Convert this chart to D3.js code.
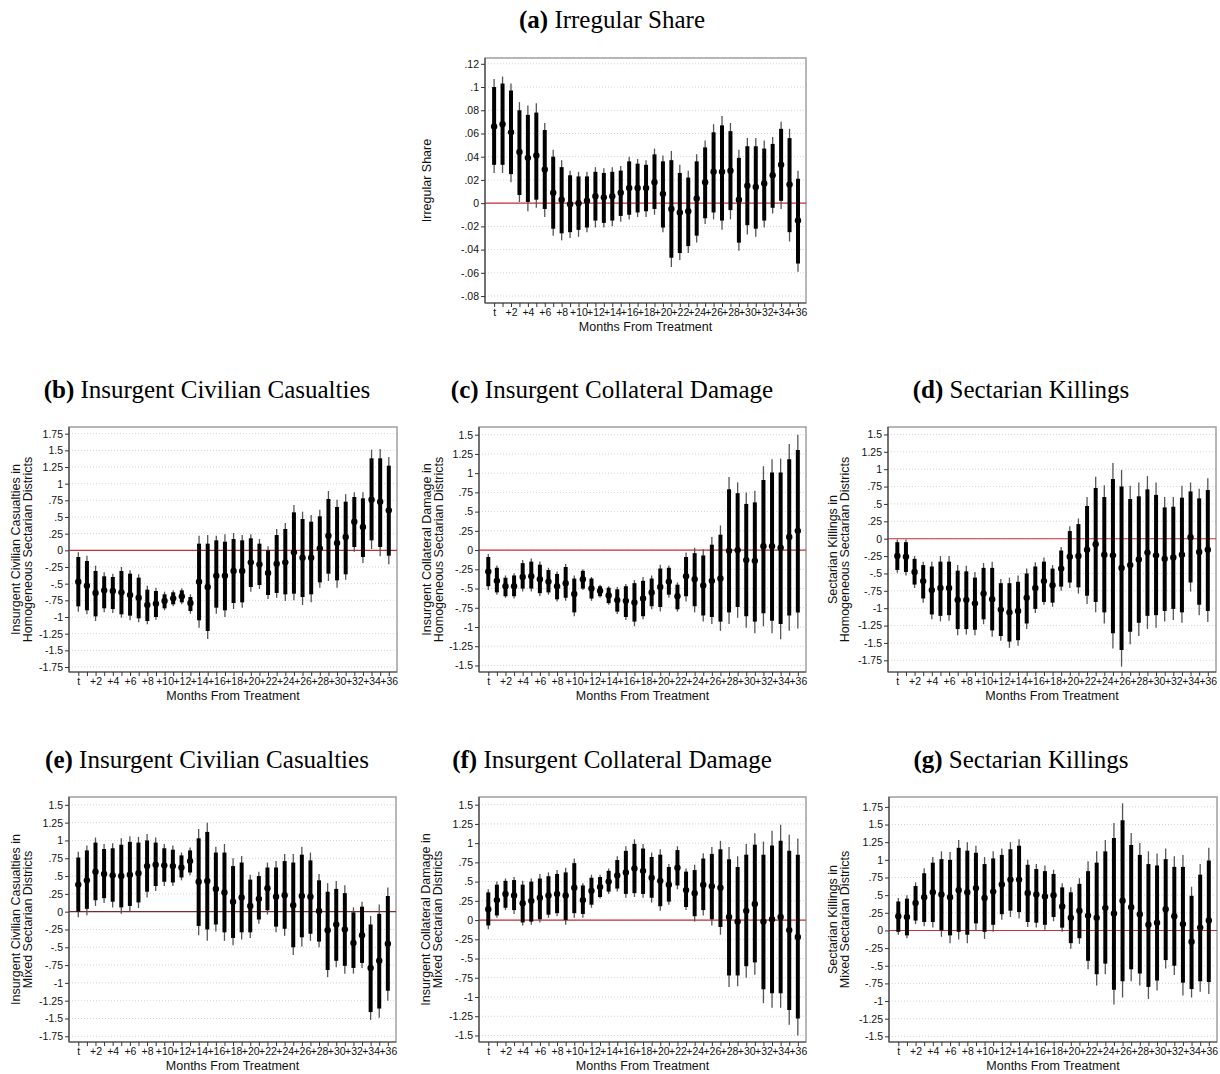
<!DOCTYPE html>
<html>
<head>
<meta charset="utf-8">
<script src="https://cdn.jsdelivr.net/npm/d3@7"></script>
<style>
  body { margin: 0; background: #fff; }
  svg { display: block; }
  .tick text { font-family: "Liberation Sans", Arial, sans-serif; font-size: 10.5px; fill: #111; }
  .ttl { font-family: "Liberation Serif", "Times New Roman", serif; font-size: 25px; fill: #000; }
  .axt { font-family: "Liberation Sans", Arial, sans-serif; font-size: 12.5px; fill: #111; }
</style>
</head>
<body>
<script>
// months from treatment
const months = ["t","+1","+2","+3","+4","+5","+6","+7","+8","+9","+10","+11","+12","+13","+14","+15","+16","+17","+18",
  "+19","+20","+21","+22","+23","+24","+25","+26","+27","+28","+29","+30","+31","+32","+33","+34","+35","+36"];

// y tick labels (Stata style)
const aTicks = [".12", ".1", ".08", ".06", ".04", ".02", "0", "-.02", "-.04", "-.06", "-.08"];
const bTicks = ["1.75","1.5","1.25","1",".75",".5",".25","0","-.25","-.5","-.75","-1","-1.25","-1.5","-1.75"];
const cTicks = ["1.5","1.25","1",".75",".5",".25","0","-.25","-.5","-.75","-1","-1.25","-1.5"];
const dTicks = ["1.5","1.25","1",".75",".5",".25","0","-.25","-.5","-.75","-1","-1.25","-1.5","-1.75"];
const eTicks = ["1.5","1.25","1",".75",".5",".25","0","-.25","-.5","-.75","-1","-1.25","-1.5","-1.75"];
const fTicks = ["1.5","1.25","1",".75",".5",".25","0","-.25","-.5","-.75","-1","-1.25","-1.5"];
const gTicks = ["1.75","1.5","1.25","1",".75",".5",".25","0","-.25","-.5","-.75","-1","-1.25","-1.5"];

// (a) Irregular Share
const aEst  = [0.066,0.068,0.061,0.044,0.039,0.041,0.029,0.009,0.003,-0.001,0.000,0.002,0.006,0.005,0.006,0.009,0.013,0.013,0.013,0.018,0.008,-0.005,-0.008,-0.007,0.004,0.018,0.027,0.027,0.028,0.003,0.015,0.014,0.017,0.024,0.033,0.016,-0.015];
const aHi95 = [0.107,0.109,0.103,0.087,0.084,0.086,0.069,0.046,0.037,0.028,0.027,0.027,0.031,0.030,0.031,0.032,0.040,0.038,0.037,0.047,0.041,0.045,0.033,0.028,0.042,0.054,0.068,0.075,0.069,0.046,0.056,0.056,0.054,0.057,0.070,0.064,0.028];
const aLo95 = [0.026,0.026,0.018,0.001,-0.007,-0.004,-0.012,-0.028,-0.032,-0.030,-0.029,-0.025,-0.021,-0.021,-0.020,-0.016,-0.014,-0.012,-0.012,-0.010,-0.025,-0.055,-0.049,-0.043,-0.034,-0.018,-0.014,-0.023,-0.014,-0.041,-0.027,-0.029,-0.021,-0.009,-0.005,-0.033,-0.059];
const aHi90 = [0.100,0.103,0.097,0.080,0.076,0.078,0.063,0.040,0.031,0.024,0.023,0.023,0.027,0.026,0.027,0.028,0.036,0.034,0.033,0.042,0.036,0.037,0.026,0.022,0.036,0.048,0.061,0.067,0.062,0.039,0.049,0.049,0.047,0.051,0.064,0.056,0.021];
const aLo90 = [0.033,0.033,0.025,0.007,0.001,0.003,-0.005,-0.022,-0.026,-0.025,-0.023,-0.021,-0.015,-0.017,-0.015,-0.011,-0.010,-0.008,-0.007,-0.005,-0.021,-0.047,-0.043,-0.037,-0.028,-0.013,-0.008,-0.015,-0.006,-0.034,-0.019,-0.022,-0.015,-0.004,0.002,-0.025,-0.052];

// (b) Insurgent Civilian Casualties, homogeneous
const bEst  = [-0.47,-0.53,-0.64,-0.60,-0.61,-0.63,-0.67,-0.71,-0.82,-0.80,-0.76,-0.72,-0.69,-0.79,-0.47,-0.55,-0.38,-0.38,-0.31,-0.31,-0.18,-0.21,-0.34,-0.20,-0.18,-0.03,-0.11,-0.11,0.03,0.22,0.11,0.20,0.43,0.35,0.76,0.73,0.60];
const bHi95 = [-0.03,-0.08,-0.23,-0.33,-0.35,-0.25,-0.30,-0.36,-0.53,-0.56,-0.62,-0.60,-0.57,-0.66,0.22,0.23,0.22,0.24,0.26,0.23,0.24,0.17,0.06,0.32,0.41,0.68,0.58,0.53,0.61,0.89,0.76,0.84,0.87,0.87,1.51,1.52,1.40];
const bLo95 = [-0.92,-0.96,-1.06,-0.93,-0.94,-1.01,-1.05,-1.08,-1.11,-1.04,-0.90,-0.84,-0.81,-0.95,-1.16,-1.33,-0.95,-1.00,-0.88,-0.86,-0.62,-0.58,-0.73,-0.71,-0.76,-0.75,-0.82,-0.78,-0.56,-0.46,-0.56,-0.44,-0.02,-0.19,0.02,-0.09,-0.21];
const bHi90 = [-0.10,-0.16,-0.31,-0.39,-0.40,-0.31,-0.35,-0.41,-0.59,-0.61,-0.66,-0.63,-0.60,-0.70,0.10,0.10,0.15,0.13,0.17,0.15,0.18,0.10,0.00,0.23,0.32,0.57,0.47,0.43,0.51,0.77,0.65,0.73,0.80,0.78,1.38,1.38,1.27];
const bLo90 = [-0.84,-0.90,-0.99,-0.87,-0.88,-0.96,-0.98,-1.02,-1.06,-1.00,-0.87,-0.81,-0.78,-0.91,-1.05,-1.21,-0.86,-0.90,-0.79,-0.78,-0.55,-0.52,-0.67,-0.64,-0.66,-0.65,-0.70,-0.66,-0.48,-0.35,-0.45,-0.36,0.05,-0.10,0.15,0.05,-0.08];

// (c) Insurgent Collateral Damage, homogeneous
const cEst  = [-0.28,-0.40,-0.47,-0.47,-0.35,-0.34,-0.38,-0.41,-0.47,-0.43,-0.57,-0.38,-0.50,-0.53,-0.59,-0.65,-0.66,-0.68,-0.63,-0.55,-0.48,-0.41,-0.60,-0.34,-0.38,-0.46,-0.40,-0.37,-0.01,0.00,-0.13,-0.14,0.05,0.05,0.03,0.17,0.25];
const cHi95 = [-0.05,-0.20,-0.33,-0.30,-0.13,-0.11,-0.15,-0.23,-0.28,-0.18,-0.33,-0.25,-0.35,-0.45,-0.47,-0.48,-0.44,-0.39,-0.35,-0.33,-0.19,-0.20,-0.42,-0.03,0.03,0.01,0.17,0.32,0.95,0.88,0.75,0.77,1.09,1.18,1.19,1.38,1.50];
const cLo95 = [-0.52,-0.58,-0.62,-0.63,-0.54,-0.54,-0.60,-0.58,-0.67,-0.66,-0.86,-0.52,-0.66,-0.62,-0.71,-0.83,-0.91,-0.99,-0.90,-0.77,-0.80,-0.62,-0.80,-0.67,-0.81,-0.93,-0.96,-1.05,-0.96,-0.88,-1.01,-1.08,-0.99,-1.08,-1.16,-1.05,-1.02];
const cHi90 = [-0.09,-0.23,-0.36,-0.33,-0.17,-0.15,-0.19,-0.26,-0.31,-0.22,-0.37,-0.27,-0.37,-0.47,-0.49,-0.51,-0.47,-0.43,-0.40,-0.37,-0.24,-0.23,-0.45,-0.09,-0.04,-0.07,0.07,0.20,0.79,0.74,0.60,0.62,0.91,1.01,1.01,1.18,1.30];
const cLo90 = [-0.47,-0.55,-0.60,-0.60,-0.50,-0.50,-0.56,-0.55,-0.64,-0.62,-0.81,-0.50,-0.63,-0.60,-0.69,-0.80,-0.87,-0.93,-0.86,-0.73,-0.74,-0.58,-0.77,-0.60,-0.73,-0.85,-0.87,-0.93,-0.81,-0.74,-0.86,-0.93,-0.82,-0.92,-0.96,-0.85,-0.81];

// (d) Sectarian Killings, homogeneous
const dEst  = [-0.25,-0.26,-0.48,-0.61,-0.74,-0.71,-0.71,-0.88,-0.88,-0.93,-0.79,-0.87,-1.02,-1.06,-1.04,-0.85,-0.71,-0.61,-0.67,-0.43,-0.26,-0.25,-0.16,-0.08,-0.23,-0.24,-0.42,-0.38,-0.30,-0.20,-0.24,-0.29,-0.27,-0.23,0.02,-0.19,-0.16];
const dHi95 = [-0.01,-0.01,-0.25,-0.33,-0.33,-0.25,-0.25,-0.38,-0.39,-0.48,-0.35,-0.33,-0.58,-0.56,-0.53,-0.43,-0.34,-0.27,-0.38,-0.12,0.18,0.29,0.60,0.89,0.77,1.09,0.99,0.76,0.81,0.90,0.81,0.60,0.60,0.76,0.81,0.72,0.87];
const dLo95 = [-0.49,-0.53,-0.71,-0.92,-1.16,-1.19,-1.18,-1.39,-1.38,-1.39,-1.23,-1.41,-1.47,-1.57,-1.54,-1.30,-1.07,-0.95,-0.98,-0.75,-0.71,-0.79,-0.94,-1.06,-1.22,-1.58,-1.84,-1.52,-1.40,-1.30,-1.28,-1.19,-1.17,-1.21,-0.76,-1.10,-1.20];
const dHi90 = [-0.05,-0.05,-0.29,-0.38,-0.40,-0.33,-0.33,-0.46,-0.47,-0.56,-0.42,-0.42,-0.64,-0.64,-0.62,-0.50,-0.40,-0.33,-0.43,-0.17,0.11,0.21,0.47,0.73,0.60,0.86,0.75,0.57,0.61,0.71,0.63,0.45,0.46,0.59,0.68,0.58,0.70];
const dLo90 = [-0.45,-0.48,-0.66,-0.86,-1.09,-1.11,-1.10,-1.30,-1.30,-1.31,-1.16,-1.32,-1.40,-1.48,-1.46,-1.22,-1.01,-0.91,-0.92,-0.69,-0.63,-0.70,-0.82,-0.91,-1.06,-1.36,-1.60,-1.34,-1.21,-1.11,-1.10,-1.04,-1.01,-1.06,-0.63,-0.95,-1.04];

// (e) Insurgent Civilian Casualties, mixed
const eEst  = [0.38,0.44,0.56,0.53,0.51,0.50,0.52,0.54,0.64,0.66,0.65,0.64,0.62,0.71,0.42,0.43,0.32,0.27,0.14,0.20,0.08,0.18,0.33,0.21,0.23,0.09,0.22,0.21,0.01,-0.26,-0.18,-0.25,-0.44,-0.33,-0.79,-0.69,-0.45];
const eHi95 = [0.84,0.93,1.04,0.95,0.96,1.03,1.06,1.05,1.09,1.04,0.95,0.93,0.83,0.90,1.16,1.25,0.91,0.95,0.75,0.78,0.52,0.56,0.69,0.71,0.81,0.81,0.91,0.83,0.53,0.40,0.43,0.37,0.06,0.14,-0.06,0.10,0.34];
const eLo95 = [-0.08,-0.05,0.08,0.12,0.06,-0.03,0.01,0.05,0.20,0.29,0.36,0.36,0.44,0.51,-0.33,-0.41,-0.28,-0.41,-0.47,-0.39,-0.37,-0.17,-0.04,-0.29,-0.34,-0.61,-0.49,-0.41,-0.50,-0.92,-0.78,-0.87,-0.87,-0.79,-1.52,-1.49,-1.25];
const eHi90 = [0.76,0.86,0.97,0.88,0.89,0.94,0.98,0.97,1.00,0.97,0.89,0.87,0.79,0.86,1.03,1.12,0.83,0.83,0.64,0.69,0.45,0.50,0.62,0.62,0.71,0.69,0.80,0.72,0.44,0.28,0.32,0.26,-0.01,0.07,-0.18,-0.03,0.22];
const eLo90 = [0.00,0.04,0.16,0.19,0.14,0.06,0.08,0.13,0.28,0.36,0.42,0.41,0.48,0.55,-0.20,-0.25,-0.18,-0.29,-0.37,-0.29,-0.29,-0.11,0.02,-0.21,-0.24,-0.50,-0.36,-0.31,-0.42,-0.82,-0.69,-0.76,-0.79,-0.72,-1.41,-1.36,-1.11];

// (f) Insurgent Collateral Damage, mixed
const fEst  = [0.14,0.26,0.34,0.32,0.22,0.25,0.29,0.32,0.34,0.32,0.42,0.26,0.38,0.43,0.50,0.58,0.62,0.67,0.64,0.55,0.51,0.46,0.68,0.39,0.35,0.46,0.44,0.42,0.04,-0.02,0.12,0.21,-0.02,0.01,0.04,-0.13,-0.22];
const fHi95 = [0.40,0.50,0.54,0.56,0.51,0.54,0.60,0.62,0.65,0.68,0.80,0.48,0.59,0.59,0.67,0.83,0.96,1.05,0.99,0.88,0.92,0.73,0.96,0.67,0.72,0.87,0.95,1.03,0.95,0.83,0.99,1.13,1.02,1.16,1.24,1.11,1.06];
const fLo95 = [-0.12,0.03,0.13,0.08,-0.07,-0.06,-0.03,0.03,0.05,-0.06,0.03,0.03,0.16,0.28,0.34,0.37,0.29,0.30,0.29,0.23,0.12,0.20,0.40,0.13,-0.02,0.06,-0.07,-0.19,-0.87,-0.86,-0.75,-0.71,-1.08,-1.14,-1.14,-1.36,-1.50];
const fHi90 = [0.36,0.46,0.51,0.52,0.46,0.50,0.54,0.57,0.60,0.62,0.74,0.45,0.55,0.56,0.64,0.78,0.90,0.99,0.93,0.82,0.85,0.69,0.91,0.63,0.65,0.80,0.86,0.92,0.79,0.69,0.85,0.98,0.85,0.97,1.03,0.90,0.85];
const fLo90 = [-0.07,0.06,0.16,0.13,-0.03,-0.02,0.01,0.07,0.09,0.00,0.09,0.08,0.20,0.30,0.37,0.41,0.34,0.35,0.34,0.29,0.18,0.24,0.45,0.17,0.05,0.13,0.01,-0.09,-0.72,-0.72,-0.60,-0.55,-0.90,-0.95,-0.95,-1.17,-1.28];

// (g) Sectarian Killings, mixed
const gEst  = [0.20,0.19,0.39,0.47,0.54,0.51,0.47,0.57,0.54,0.60,0.46,0.55,0.65,0.72,0.72,0.53,0.51,0.48,0.50,0.34,0.18,0.28,0.21,0.18,0.32,0.24,0.42,0.33,0.23,0.08,0.11,0.30,0.20,0.09,-0.16,0.04,0.14];
const gHi95 = [0.46,0.50,0.68,0.88,1.04,1.12,1.11,1.28,1.25,1.20,1.04,1.12,1.16,1.25,1.29,1.00,0.94,0.92,0.86,0.67,0.61,0.74,0.98,1.12,1.28,1.52,1.80,1.38,1.24,1.12,1.09,1.16,1.05,1.07,0.62,0.94,1.17];
const gLo95 = [-0.06,-0.11,0.09,0.06,0.04,-0.09,-0.18,-0.13,-0.18,0.00,-0.12,-0.02,0.15,0.19,0.17,0.05,0.04,0.01,0.13,-0.02,-0.26,-0.19,-0.55,-0.78,-0.62,-1.05,-0.95,-0.72,-0.78,-0.97,-0.85,-0.54,-0.63,-0.92,-0.95,-0.87,-0.90];
const gHi90 = [0.41,0.45,0.63,0.81,0.96,1.01,1.00,1.17,1.13,1.10,0.94,1.02,1.07,1.15,1.20,0.93,0.87,0.84,0.80,0.61,0.54,0.66,0.84,0.96,1.12,1.31,1.56,1.21,1.07,0.94,0.92,1.01,0.90,0.90,0.49,0.79,0.99];
const gLo90 = [-0.02,-0.07,0.14,0.12,0.12,0.00,-0.07,-0.02,-0.06,0.10,-0.02,0.08,0.23,0.28,0.26,0.12,0.11,0.08,0.19,0.04,-0.18,-0.11,-0.43,-0.62,-0.47,-0.84,-0.72,-0.55,-0.61,-0.80,-0.71,-0.42,-0.50,-0.74,-0.83,-0.72,-0.73];

const panels = [
  { tag: "(a)", title: "Irregular Share", ylab: ["Irregular Share"], ticks: aTicks,
    est: aEst, lo95: aLo95, hi95: aHi95, lo90: aLo90, hi90: aHi90 },
  { tag: "(b)", title: "Insurgent Civilian Casualties", ylab: ["Insurgent Civilian Casualties in", "Homogeneous Sectarian Districts"], ticks: bTicks,
    est: bEst, lo95: bLo95, hi95: bHi95, lo90: bLo90, hi90: bHi90 },
  { tag: "(c)", title: "Insurgent Collateral Damage", ylab: ["Insurgent Collateral Damage in", "Homogeneous Sectarian Districts"], ticks: cTicks,
    est: cEst, lo95: cLo95, hi95: cHi95, lo90: cLo90, hi90: cHi90 },
  { tag: "(d)", title: "Sectarian Killings", ylab: ["Sectarian Killings in", "Homogeneous Sectarian Districts"], ticks: dTicks,
    est: dEst, lo95: dLo95, hi95: dHi95, lo90: dLo90, hi90: dHi90 },
  { tag: "(e)", title: "Insurgent Civilian Casualties", ylab: ["Insurgent Civilian Casualties in", "Mixed Sectarian Districts"], ticks: eTicks,
    est: eEst, lo95: eLo95, hi95: eHi95, lo90: eLo90, hi90: eHi90 },
  { tag: "(f)", title: "Insurgent Collateral Damage", ylab: ["Insurgent Collateral Damage in", "Mixed Sectarian Districts"], ticks: fTicks,
    est: fEst, lo95: fLo95, hi95: fHi95, lo90: fLo90, hi90: fHi90 },
  { tag: "(g)", title: "Sectarian Killings", ylab: ["Sectarian Killings in", "Mixed Sectarian Districts"], ticks: gTicks,
    est: gEst, lo95: gLo95, hi95: gHi95, lo90: gLo90, hi90: gHi90 }
];

// plot frames (pixels) and y domains
const layout = [
  { l: 485, t: 58,  r: 806,  b: 303,  tx: 612,  ty: 28,  yx: 431, yd: [-0.086, 0.125], zero: "#c4303a" },
  { l: 69,  t: 427, r: 397,  b: 672,  tx: 207,  ty: 398, yx: 20,  yd: [-1.825, 1.85],  zero: "#c4303a" },
  { l: 479, t: 427, r: 806,  b: 672,  tx: 612,  ty: 398, yx: 431, yd: [-1.585, 1.60],  zero: "#c4303a" },
  { l: 888, t: 427, r: 1216, b: 672,  tx: 1021, ty: 398, yx: 837, yd: [-1.918, 1.607], zero: "#c4303a" },
  { l: 69,  t: 797, r: 396,  b: 1042, tx: 207,  ty: 768, yx: 20,  yd: [-1.83, 1.61],   zero: "#7a2a30" },
  { l: 479, t: 797, r: 806,  b: 1042, tx: 612,  ty: 768, yx: 430, yd: [-1.585, 1.60],  zero: "#c4303a" },
  { l: 889, t: 797, r: 1217, b: 1042, tx: 1021, ty: 768, yx: 837, yd: [-1.58, 1.89],   zero: "#c4303a" }
];

const svg = d3.select("body").append("svg")
  .attr("width", 1220).attr("height", 1074);
svg.append("rect").attr("width", 1220).attr("height", 1074).attr("fill", "#fff");

panels.forEach((p, k) => {
  const L = layout[k];
  const g = svg.append("g");

  // title
  const t = g.append("text").attr("class", "ttl")
    .attr("x", L.tx).attr("y", L.ty).attr("text-anchor", "middle");
  t.append("tspan").attr("font-weight", "bold").text(p.tag);
  t.append("tspan").text(" " + p.title);

  const x = d3.scaleLinear().domain([-1.08, 36.95]).range([L.l, L.r]);
  const y = d3.scaleLinear().domain(L.yd).range([L.b, L.t]);
  const tv = p.ticks.map(s => +s);

  // grid
  g.append("g").selectAll("line").data(tv).join("line")
    .attr("x1", L.l).attr("x2", L.r)
    .attr("y1", d => y(d)).attr("y2", d => y(d))
    .attr("stroke", "#c8c8c8").attr("stroke-width", 0.8)
    .attr("stroke-dasharray", "1,2");

  // frame
  g.append("rect").attr("x", L.l).attr("y", L.t)
    .attr("width", L.r - L.l).attr("height", L.b - L.t)
    .attr("fill", "none").attr("stroke", "#a0a0a0").attr("stroke-width", 1.5);

  // zero line
  g.append("line").attr("x1", L.l).attr("x2", L.r)
    .attr("y1", y(0)).attr("y2", y(0))
    .attr("stroke", L.zero).attr("stroke-width", 1.1);

  // axes
  const ya = g.append("g").attr("transform", `translate(${L.l},0)`)
    .call(d3.axisLeft(y).tickValues(tv).tickFormat((d, i) => p.ticks[i]).tickSize(4).tickSizeOuter(0));
  const xa = g.append("g").attr("transform", `translate(0,${L.b})`)
    .call(d3.axisBottom(x).tickValues(d3.range(months.length))
      .tickFormat(i => i % 2 === 0 ? months[i] : "").tickSize(4).tickSizeOuter(0));
  [ya, xa].forEach(a => {
    a.select(".domain").attr("stroke", "#444").attr("stroke-width", 1.2)
      .attr("d", a === ya ? `M0,${L.t}V${L.b}` : `M${L.l},0H${L.r}`);
    a.selectAll(".tick line").attr("stroke", "#333");
  });
  ya.selectAll(".tick text").attr("x", -6);
  xa.selectAll(".tick text").attr("y", 6);

  // axis titles
  g.append("text").attr("class", "axt")
    .attr("x", (L.l + L.r) / 2).attr("y", L.b + 28)
    .attr("text-anchor", "middle").text("Months From Treatment");
  const yt = g.append("text").attr("class", "axt").attr("text-anchor", "middle")
    .attr("transform", `translate(${L.yx},${(L.t + L.b) / 2}) rotate(-90)`);
  p.ylab.forEach((s, i) => yt.append("tspan").attr("x", 0).attr("dy", i === 0 ? 0 : 11.5).text(s));

  // coefficients
  const idx = d3.range(p.est.length);
  g.append("g").selectAll("line").data(idx).join("line")
    .attr("x1", i => x(i)).attr("x2", i => x(i))
    .attr("y1", i => y(p.lo95[i])).attr("y2", i => y(p.hi95[i]))
    .attr("stroke", "#555").attr("stroke-width", 1.3);
  g.append("g").selectAll("line").data(idx).join("line")
    .attr("x1", i => x(i)).attr("x2", i => x(i))
    .attr("y1", i => y(p.lo90[i])).attr("y2", i => y(p.hi90[i]))
    .attr("stroke", "#000").attr("stroke-width", 4);
  g.append("g").selectAll("circle").data(idx).join("circle")
    .attr("cx", i => x(i)).attr("cy", i => y(p.est[i]))
    .attr("r", 3.2).attr("fill", "#000");
});
</script>
</body>
</html>
